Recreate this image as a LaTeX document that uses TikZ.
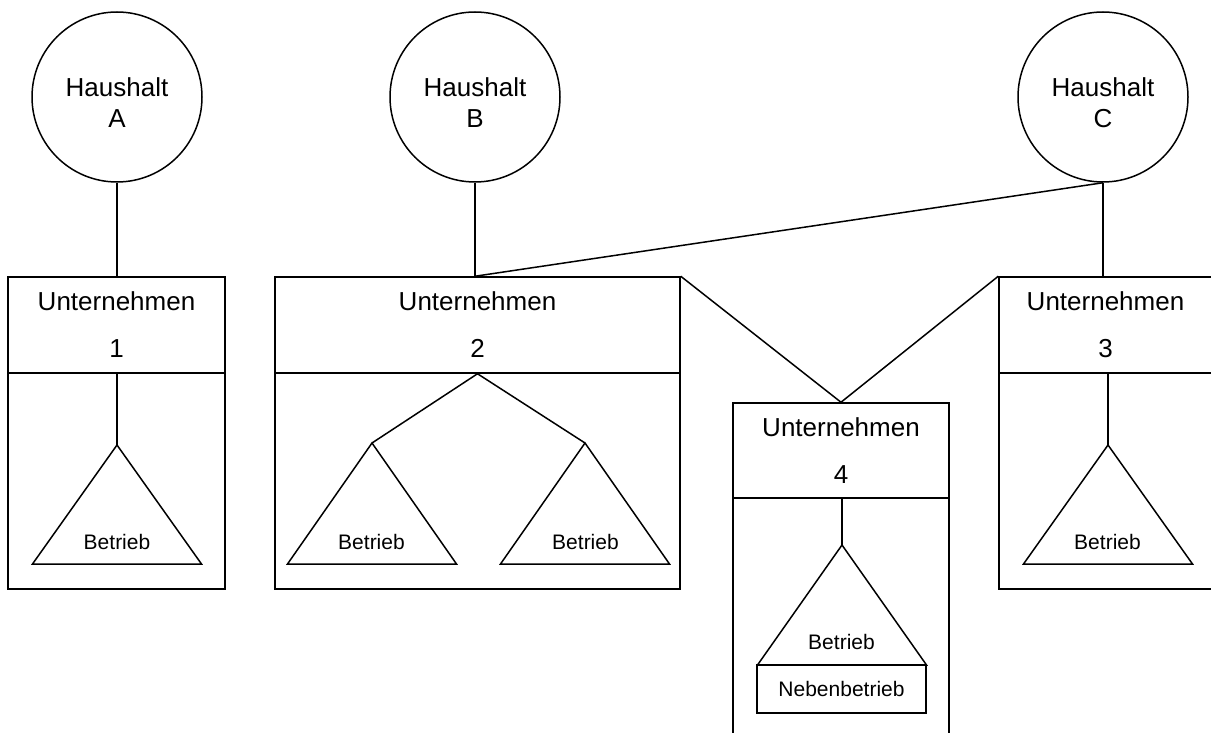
\documentclass[tikz,border=0pt]{standalone}
\usepackage{fontspec}
\setmainfont{Liberation Sans}
\begin{document}
\begin{tikzpicture}[x=1pt,y=-1pt,line width=1.5pt,
  hh/.style={circle,draw,minimum size=170pt,inner sep=0pt},
  htext/.style={inner sep=0pt,align=center,font=\fontsize{26}{31}\selectfont},
  utop/.style={draw,minimum height=96pt,inner sep=0pt,align=center,font=\fontsize{26}{47}\selectfont},
  ubot/.style={draw,inner sep=0pt},
  bt/.style={inner sep=0pt,font=\fontsize{21}{25}\selectfont},
  tri/.style={draw,line join=miter}]
\useasboundingbox (0,0) rectangle (1211,733);
\clip (0,0) rectangle (1211,733);
% households
\node[hh] (A) at (117,97) {};
\node[hh] (B) at (475,97) {};
\node[hh] (C) at (1103,97) {};
\node[htext] (Atext) at (117,103) {Haushalt\\A};
\node[htext] (Btext) at (475,103) {Haushalt\\B};
\node[htext] (Ctext) at (1103,103) {Haushalt\\C};
% companies
\node[utop,minimum width=217pt] (u1) at (116.5,325) {Unternehmen\\1};
\node[ubot,minimum width=217pt,minimum height=216pt] (u1b) at (116.5,481) {};
\node[utop,minimum width=405pt] (u2) at (477.5,325) {Unternehmen\\2};
\node[ubot,minimum width=405pt,minimum height=216pt] (u2b) at (477.5,481) {};
\node[utop,minimum width=213pt] (u3) at (1105.5,325) {Unternehmen\\3};
\node[ubot,minimum width=213pt,minimum height=216pt] (u3b) at (1105.5,481) {};
\node[utop,minimum width=216pt,minimum height=95pt] (u4) at (841,450.5) {Unternehmen\\4};
\node[ubot,minimum width=216pt,minimum height=260pt] (u4b) at (841,628) {};
% connectors between households and companies
\draw (A.south) -- (A.south |- u1.north);
\draw (B.south) -- (B.south |- u2.north);
\draw (C.south) -- (B.south |- u2.north);
\draw (C.south) -- (C.south |- u3.north);
\draw (u2.north east) -- (u4.north);
\draw (u3.north west) -- (u4.north);
% Betriebe
\coordinate (t1) at (117,445);
\coordinate (t2l) at (372,443);
\coordinate (t2r) at (585,443);
\coordinate (t3) at (1108,445);
\coordinate (t4) at (842,545);
\draw (u1.south -| t1) -- (t1);
\draw (t2l) -- (u2.south) -- (t2r);
\draw (u3.south -| t3) -- (t3);
\draw (u4.south -| t4) -- (t4);
\draw[tri] (t1) -- ++(-84.5,119) -- ++(169,0) -- cycle;
\draw[tri] (t2l) -- ++(-84.5,121) -- ++(169,0) -- cycle;
\draw[tri] (t2r) -- ++(-84.5,121) -- ++(169,0) -- cycle;
\draw[tri] (t3) -- ++(-84.5,119) -- ++(169,0) -- cycle;
\draw[tri] (t4) -- ++(-84.5,120) -- ++(169,0) -- cycle;
\node[bt] (b1) at (117,542) {Betrieb};
\node[bt] (b2l) at (371.5,542) {Betrieb};
\node[bt] (b2r) at (585.5,542) {Betrieb};
\node[bt] (b3) at (1107.5,542) {Betrieb};
\node[bt] (b4) at (841.5,642) {Betrieb};
\node[draw,minimum width=169pt,minimum height=48pt,inner sep=0pt,font=\fontsize{21}{25}\selectfont] (nb) at (841.5,689) {Nebenbetrieb};
\end{tikzpicture}
\end{document}
